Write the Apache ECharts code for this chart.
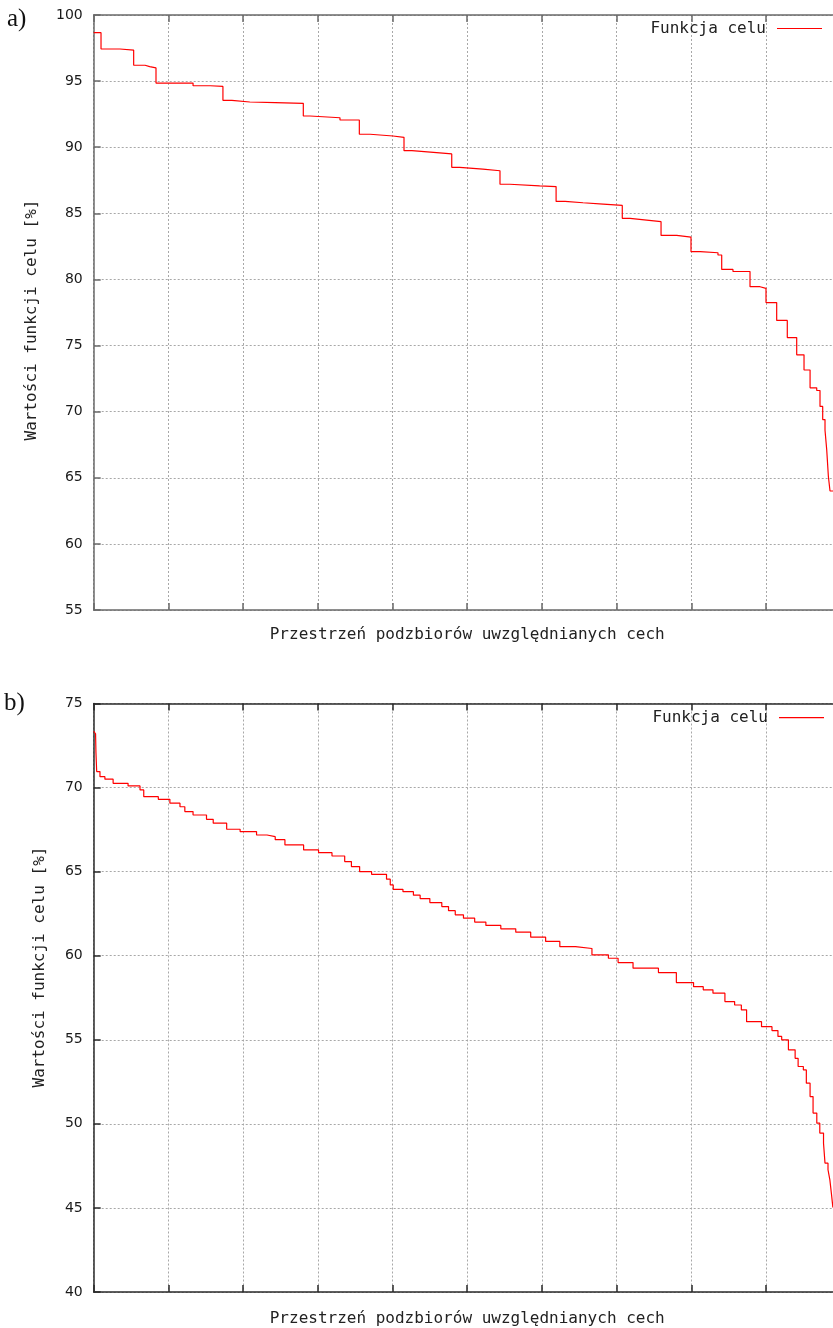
<!DOCTYPE html>
<html>
<head>
<meta charset="utf-8">
<script src="https://cdn.jsdelivr.net/npm/echarts@6/dist/echarts.min.js"></script>
<style>
html,body{margin:0;padding:0;background:#fff;overflow:hidden;width:833px;height:1328px;}
#main{width:850px;height:1328px;}
</style>
</head>
<body>
<div id="main"></div>
<script>
// ---- data (x: position in subset space, 0..100; y: objective value [%]) ----
const seriesName = 'Funkcja celu';
const xAxisTitle = 'Przestrzeń podzbiorów uwzględnianych cech';
const yAxisTitle = 'Wartości funkcji celu [%]';
const panelLabels = ['a)', 'b)'];

const topX = [0, 0.98, 3.52, 5.35, 6.87, 7.5, 8.34, 13.3, 15.6, 17.3, 18.5, 20.9, 24.3, 28.06, 28.96, 32.97,
  35.56, 37.0, 40.07, 41.54, 42.6, 45.9, 47.93, 49.0, 52.1, 54.39, 55.7, 59.7, 61.9, 63.1, 65.5, 68.2,
  70.76, 71.8, 74.03, 75.95, 78.05, 79.96, 81.2, 83.57, 84.07, 85.58, 87.86, 89.2, 90.0, 91.43, 92.85,
  94.11, 95.09, 95.9, 96.79, 97.23, 97.59, 97.9, 98.13, 98.35, 98.57, 100];
const topY = [98.66, 97.43, 97.35, 96.2, 96.1, 96.0, 94.85, 94.65, 94.6, 93.55, 93.42, 93.38, 93.32, 92.36, 92.23, 92.06,
  90.98, 90.85, 90.75, 89.74, 89.59, 89.49, 88.48, 88.35, 88.22, 87.2, 87.07, 87.02, 85.9, 85.8, 85.7, 85.6,
  84.62, 84.49, 84.37, 83.33, 83.2, 82.1, 82.02, 81.85, 80.76, 80.6, 79.45, 79.33, 78.25, 76.9, 75.6,
  74.3, 73.15, 71.8, 71.6, 70.4, 69.4, 68.6, 67.1, 65.1, 64.0, 63.9];

const botX = [0, 0.25, 0.3, 0.4, 0.84, 1.5, 2.6, 4.6, 6.2, 6.7, 8.65, 10.2, 11.55, 12.2, 13.3, 15.1, 16.0, 17.8,
  19.6, 21.8, 23.2, 24.3, 25.6, 28.1, 30.1, 31.9, 33.6, 34.5, 35.6, 37.2, 39.2, 39.7, 40.1, 41.4, 42.8,
  43.7, 45.0, 46.6, 47.5, 48.4, 49.5, 51.0, 52.5, 54.5, 56.5, 58.5, 60.5, 62.4, 64.5, 66.7, 68.9, 70.2,
  72.2, 75.6, 78.0, 80.3, 81.6, 82.9, 84.5, 85.8, 86.7, 87.4, 89.4, 90.8, 91.6, 92.1, 93.0, 93.9, 94.3,
  95.0, 95.4, 95.9, 96.3, 96.8, 97.2, 97.7, 97.9, 98.3, 98.55, 98.75, 98.95, 100];
const botY = [73.35, 73.2, 72.1, 70.95, 70.65, 70.5, 70.25, 70.1, 69.86, 69.46, 69.3, 69.07, 68.86, 68.57, 68.37, 68.11, 67.88, 67.52,
  67.38, 67.18, 67.08, 66.9, 66.59, 66.29, 66.13, 65.93, 65.6, 65.3, 65.0, 64.84, 64.55, 64.21, 63.95, 63.81, 63.6,
  63.4, 63.16, 62.92, 62.68, 62.43, 62.23, 62.0, 61.8, 61.6, 61.4, 61.1, 60.85, 60.54, 60.43, 60.05, 59.85, 59.59,
  59.26, 59.0, 58.4, 58.16, 57.97, 57.77, 57.27, 57.07, 56.78, 56.08, 55.78, 55.55, 55.2, 55.0, 54.4, 53.9, 53.41,
  53.21, 52.42, 51.62, 50.64, 50.04, 49.45, 48.85, 47.66, 47.27, 46.67, 45.88, 45.05, 44.95];

const topYRange = [55, 100];
const botYRange = [40, 75];

// ---- chart ----
const chart = echarts.init(document.getElementById('main'));
const mono = '"DejaVu Sans Mono", monospace';
const pair = (xs, ys) => xs.map((x, i) => [x, ys[i]]);

function xAxes(gi, col, gap) {
  const common = {
    type: 'value', gridIndex: gi, min: 0, max: 100, interval: 10,
    axisLabel: { show: false },
    axisLine: { show: true, lineStyle: { color: col, width: 1.5 } },
    axisTick: { show: true, inside: true, length: 7, lineStyle: { color: col, width: 1.5 } }
  };
  return [
    Object.assign({}, common, {
      position: 'bottom',
      name: xAxisTitle, nameLocation: 'middle', nameGap: gap,
      nameTextStyle: { fontFamily: mono, fontSize: 16, color: '#222', verticalAlign: 'top' },
      splitLine: { show: true, lineStyle: { color: '#a8a8a8', type: [2, 2], width: 1 } }
    }),
    Object.assign({}, common, { position: 'top', splitLine: { show: false } })
  ];
}
function yAxis(gi, range, col) {
  return {
    type: 'value', gridIndex: gi, min: range[0], max: range[1], interval: 5,
    axisLine: { show: true, lineStyle: { color: col, width: 1.5 } },
    axisTick: { show: true, inside: true, length: 7, lineStyle: { color: col, width: 1.5 } },
    axisLabel: { margin: 11, fontFamily: '"DejaVu Sans", sans-serif', fontSize: 14, color: '#1a1a1a' },
    splitLine: { show: true, lineStyle: { color: '#a8a8a8', type: [2, 2], width: 1 } }
  };
}

const option = {
  animation: false,
  backgroundColor: '#fff',
  grid: [
    { left: 93.7, top: 15, width: 747, height: 595 },
    { left: 93.7, top: 703.5, width: 747, height: 588.5 }
  ],
  xAxis: xAxes(0, '#6a6a6a', 17).concat(xAxes(1, '#2a2a2a', 19)),
  yAxis: [yAxis(0, topYRange, '#6a6a6a'), yAxis(1, botYRange, '#2a2a2a')],
  legend: [
    { right: 28, top: 20.5, padding: 0, align: 'right', icon: 'rect', itemWidth: 45, itemHeight: 1.2,
      data: [seriesName], selectedMode: false,
      textStyle: { fontFamily: mono, fontSize: 16, lineHeight: 16, color: '#222', padding: [0, 6, 0, 0] } },
    { right: 26, top: 709.7, padding: 0, align: 'right', icon: 'rect', itemWidth: 45, itemHeight: 1.2,
      data: [seriesName], selectedMode: false,
      textStyle: { fontFamily: mono, fontSize: 16, lineHeight: 16, color: '#222', padding: [0, 6, 0, 0] } }
  ],
  graphic: [
    { type: 'text', left: 7, top: 7, style: { text: panelLabels[0], font: '25px "Liberation Serif", serif', fill: '#111' } },
    { type: 'text', left: 4, top: 691, style: { text: panelLabels[1], font: '25px "Liberation Serif", serif', fill: '#111' } },
    { type: 'text', x: 32, y: 320, rotation: Math.PI / 2,
      style: { text: yAxisTitle, font: '16px ' + mono, fill: '#222', align: 'center', verticalAlign: 'middle' } },
    { type: 'text', x: 40, y: 967, rotation: Math.PI / 2,
      style: { text: yAxisTitle, font: '16px ' + mono, fill: '#222', align: 'center', verticalAlign: 'middle' } }
  ],
  series: [
    { name: seriesName, type: 'line', xAxisIndex: 0, yAxisIndex: 0, step: 'end', showSymbol: false,
      lineStyle: { color: '#ff0000', width: 1.2 }, itemStyle: { color: '#ff0000' }, clip: true,
      data: pair(topX, topY) },
    { name: seriesName, type: 'line', xAxisIndex: 2, yAxisIndex: 1, step: 'end', showSymbol: false,
      lineStyle: { color: '#ff0000', width: 1.2 }, itemStyle: { color: '#ff0000' }, clip: true,
      data: pair(botX, botY) }
  ]
};
chart.setOption(option);
</script>
</body>
</html>
